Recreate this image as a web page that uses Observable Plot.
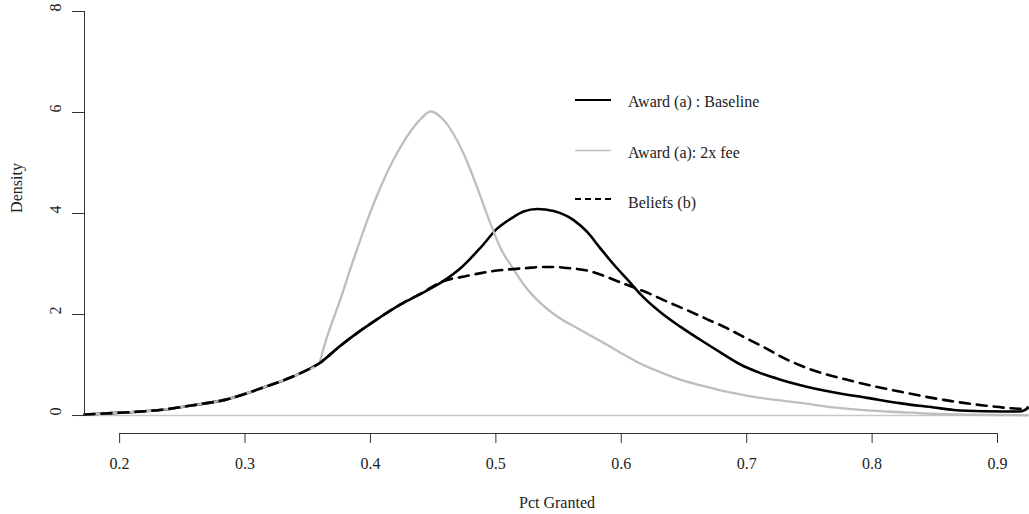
<!DOCTYPE html>
<html><head><meta charset="utf-8">
<script src="https://cdn.jsdelivr.net/npm/d3@7"></script>
<script src="https://cdn.jsdelivr.net/npm/@observablehq/plot@0.6"></script>
<style>body{margin:0;background:#fff}</style>
</head><body><div id="chart"></div>
<script>
// ---- data ----
const xTicks = [0.2, 0.3, 0.4, 0.5, 0.6, 0.7, 0.8, 0.9];
const yTicks = [0, 2, 4, 6, 8];
const xDomain = [0.172, 0.9255];
const yDomain = [-0.356, 8];

const seriesNames = ["Award (a) : Baseline", "Award (a): 2x fee", "Beliefs (b)"];

const baselineX = [0.172,0.188,0.204,0.220,0.236,0.252,0.268,0.284,0.299,0.315,0.331,0.346,0.359,0.376,0.392,0.408,0.424,0.440,0.458,0.472,0.488,0.501,0.514,0.522,0.533,0.546,0.562,0.573,0.583,0.594,0.605,0.615,0.631,0.647,0.663,0.679,0.695,0.711,0.727,0.743,0.769,0.796,0.823,0.849,0.865,0.889,0.918,0.924];
const baselineY = [0.02,0.04,0.06,0.085,0.12,0.18,0.24,0.31,0.42,0.56,0.70,0.86,1.03,1.38,1.68,1.95,2.20,2.41,2.66,2.92,3.33,3.70,3.93,4.04,4.09,4.05,3.87,3.63,3.32,2.99,2.69,2.41,2.05,1.76,1.50,1.25,1.01,0.84,0.71,0.60,0.46,0.35,0.24,0.16,0.11,0.085,0.08,0.14];

const feeX = [0.172,0.188,0.204,0.220,0.236,0.252,0.268,0.284,0.299,0.315,0.331,0.346,0.359,0.362,0.366,0.376,0.386,0.398,0.408,0.418,0.429,0.440,0.448,0.458,0.469,0.477,0.488,0.496,0.504,0.514,0.522,0.535,0.549,0.567,0.583,0.599,0.615,0.631,0.647,0.663,0.679,0.695,0.711,0.727,0.743,0.769,0.796,0.823,0.847,0.878,0.924];
const feeY = [0.02,0.04,0.06,0.085,0.12,0.18,0.24,0.31,0.42,0.56,0.70,0.86,1.03,1.28,1.60,2.30,3.05,3.90,4.52,5.05,5.52,5.87,6.02,5.86,5.45,5.03,4.32,3.78,3.30,2.90,2.60,2.24,1.96,1.70,1.48,1.25,1.03,0.86,0.71,0.60,0.50,0.42,0.35,0.30,0.25,0.16,0.10,0.065,0.035,0.015,0.005];

const beliefsX = [0.172,0.188,0.204,0.220,0.236,0.252,0.268,0.284,0.299,0.315,0.331,0.346,0.359,0.376,0.392,0.408,0.424,0.440,0.458,0.465,0.472,0.488,0.501,0.509,0.525,0.535,0.548,0.557,0.573,0.581,0.589,0.599,0.621,0.637,0.653,0.669,0.685,0.698,0.714,0.727,0.743,0.756,0.775,0.791,0.807,0.823,0.841,0.857,0.873,0.889,0.908,0.921,0.924];
const beliefsY = [0.02,0.04,0.06,0.085,0.12,0.18,0.24,0.31,0.42,0.56,0.70,0.86,1.03,1.38,1.68,1.95,2.20,2.41,2.66,2.71,2.74,2.82,2.87,2.89,2.92,2.94,2.94,2.92,2.87,2.81,2.74,2.64,2.43,2.25,2.08,1.90,1.72,1.55,1.35,1.17,0.99,0.87,0.74,0.64,0.55,0.47,0.38,0.31,0.25,0.20,0.15,0.13,0.16];

const pts = (xs, ys) => xs.map((x, i) => ({x, y: ys[i]}));

const FONT = "'Liberation Serif', 'Times New Roman', serif";
const INK = "#222";

const chart = Plot.plot({
  width: 1029, height: 514,
  marginLeft: 84, marginRight: 0, marginTop: 11, marginBottom: 81,
  style: {fontFamily: FONT, fontSize: "16px", background: "#fff", color: INK},
  x: {domain: xDomain, axis: null},
  y: {domain: yDomain, axis: null},
  marks: [
    Plot.ruleY([0], {stroke: "#c8c8c8", strokeWidth: 1.3}),
    Plot.line(pts(baselineX, baselineY), {x: "x", y: "y", stroke: "#000", strokeWidth: 2.6, curve: "monotone-x"}),
    Plot.line(pts(feeX, feeY), {x: "x", y: "y", stroke: "#bebebe", strokeWidth: 2.3, curve: "monotone-x"}),
    Plot.line(pts(beliefsX, beliefsY), {x: "x", y: "y", stroke: "#000", strokeWidth: 2.6, strokeDasharray: "10,7", curve: "monotone-x"}),
    // x axis
    Plot.ruleY([{y: yDomain[0], x1: xTicks[0], x2: xTicks[xTicks.length - 1]}], {y: "y", x1: "x1", x2: "x2", stroke: "#333", strokeWidth: 1}),
    Plot.axisX(xTicks, {anchor: "bottom", tickSize: 10, tickPadding: 14, fontSize: 16, tickFormat: d3.format(".1f"), label: null, stroke: "#333", fill: INK}),
    // y axis
    Plot.ruleX([{x: xDomain[0], y1: yTicks[0], y2: yTicks[yTicks.length - 1]}], {x: "x", y1: "y1", y2: "y2", stroke: "#333", strokeWidth: 1}),
    Plot.axisY(yTicks, {anchor: "left", tickSize: 12, tickFormat: () => "", label: null, stroke: "#333"}),
    Plot.text(yTicks, {y: d => d, text: d => String(d), frameAnchor: "left", dx: -29, rotate: -90, fontSize: 16, fill: INK})
  ]
});

document.getElementById("chart").appendChild(chart);

const svg = d3.select(chart);
svg.append("text").attr("x", 557).attr("y", 508).attr("text-anchor", "middle")
  .attr("font-family", FONT).attr("font-size", 16).attr("fill", INK).text("Pct Granted");
svg.append("text").attr("transform", "translate(22,188) rotate(-90)").attr("text-anchor", "middle")
  .attr("font-family", FONT).attr("font-size", 16).attr("fill", INK).text("Density");

const legendStyles = [
  {stroke: "#000", width: 1.8, dash: null, ly: 100, ty: 107},
  {stroke: "#bebebe", width: 1.6, dash: null, ly: 150.5, ty: 158},
  {stroke: "#000", width: 1.8, dash: "6,4", ly: 199, ty: 208}
];
seriesNames.forEach((name, i) => {
  const s = legendStyles[i];
  const ln = svg.append("line").attr("x1", 575).attr("x2", 611).attr("y1", s.ly).attr("y2", s.ly)
    .attr("stroke", s.stroke).attr("stroke-width", s.width);
  if (s.dash) ln.attr("stroke-dasharray", s.dash);
  svg.append("text").attr("x", 628).attr("y", s.ty).attr("text-anchor", "start").attr("font-family", FONT)
    .attr("font-size", 16).attr("fill", INK).text(name);
});
</script>
</body></html>
